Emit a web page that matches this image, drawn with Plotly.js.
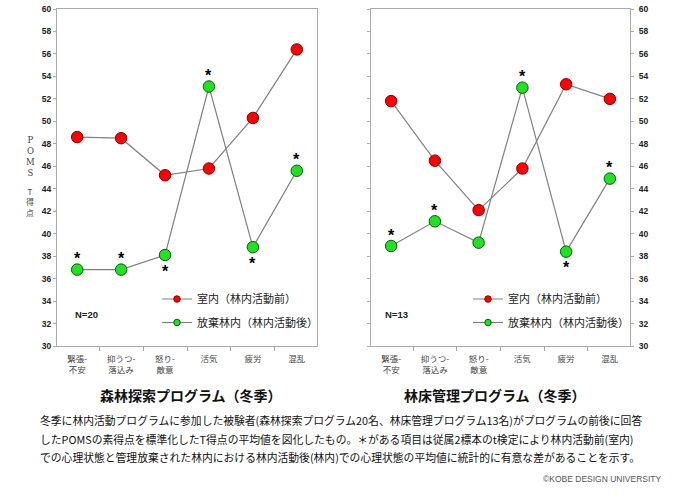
<!DOCTYPE html>
<html><head><meta charset="utf-8">
<script src="https://cdn.plot.ly/plotly-3.0.1.min.js"></script>
<style>body{margin:0;background:#fff}#c{width:680px;height:497px}</style>
</head><body><div id="c"></div>
<script>
const categories = ['緊張-<br>不安','抑うつ-<br>落込み','怒り-<br>敵意','活気','疲労','混乱'];
const exploreBefore = [48.6, 48.5, 45.2, 45.8, 50.3, 56.4];
const exploreAfter  = [36.8, 36.8, 38.1, 53.1, 38.8, 45.6];
const exploreSig    = ['above','above','below','above','below','above'];
const floorBefore   = [51.8, 46.5, 42.1, 45.8, 53.3, 52.0];
const floorAfter    = [38.9, 41.1, 39.2, 53.0, 38.4, 44.9];
const floorSig      = ['above','above','','above','below','above'];
const seriesNames   = ['室内（林内活動前）','放棄林内（林内活動後）'];
const chartTitles   = ['森林探索プログラム（冬季）','林床管理プログラム（冬季）'];
const sampleSizes   = ['N=20','N=13'];
const yTickVals     = [30,32,34,36,38,40,42,44,46,48,50,52,54,56,58,60];

const W = 680, H = 497;
const px = v => v / W, py = v => 1 - v / H;

const lineCol = '#808080';
const red = {color:'#ff0000', line:{color:'#8a0000', width:1}};
const green = {color:'#22e022', line:{color:'#0a5a0a', width:1}};
const starFont = {family:'Liberation Sans, Arial', size:16, color:'#000', weight:'bold'};

function series(x, y, xa, ya, mk) {
  return {x:x, y:y, xaxis:xa, yaxis:ya, type:'scatter', mode:'lines+markers',
    line:{color:lineCol, width:1.2}, marker:Object.assign({size:11.5, symbol:'circle'}, mk),
    showlegend:false, hoverinfo:'skip', cliponaxis:false};
}
function legendEntry(name, mk, leg) {
  return {x:[null], y:[null], type:'scatter', mode:'lines+markers', name:name, legend:leg,
    line:{color:lineCol, width:1.2}, marker:Object.assign({size:6.5}, mk), showlegend:true};
}

const data = [
  series(categories, exploreBefore, 'x', 'y', red),
  series(categories, exploreAfter, 'x', 'y', green),
  series(categories, floorBefore, 'x2', 'y2', red),
  series(categories, floorAfter, 'x2', 'y2', green),
  legendEntry(seriesNames[0], red, 'legend'),
  legendEntry(seriesNames[1], green, 'legend2'),
  legendEntry(seriesNames[0], red, 'legend3'),
  legendEntry(seriesNames[1], green, 'legend4')
];

const tickFont = {family:'Liberation Sans, Arial', size:8.5, color:'#222', weight:'bold'};
const catFont = {family:'Noto Sans CJK JP', size:8.5, color:'#444'};
const axCol = '#aaaaaa';
const xBase = {type:'category', showgrid:false, zeroline:false, showline:true, linecolor:axCol, linewidth:1,
  mirror:true, ticks:'outside', tickson:'boundaries', ticklen:4, tickcolor:axCol, tickfont:catFont,
  ticklabelstandoff:5, fixedrange:true};
const yBase = {range:[30,60], tickvals:yTickVals, showgrid:false, zeroline:false, showline:true, linecolor:axCol,
  linewidth:1, ticks:'outside', ticklen:3, tickcolor:axCol, tickfont:tickFont, fixedrange:true};
const legFont = {family:'Noto Sans CJK JP', size:11, color:'#222'};
function leg(x, y) {
  return {x:px(x), y:py(y), xanchor:'left', yanchor:'middle', bgcolor:'rgba(0,0,0,0)', borderwidth:0, font:legFont, itemwidth:30};
}

const ann = [];
function addStars(sig, vals, xr, yr) {
  sig.forEach((s, i) => {
    if (!s) return;
    ann.push({text:'*', x:categories[i], y:vals[i], xref:xr, yref:yr, showarrow:false, font:starFont,
      xanchor:'center', yanchor:'middle', yshift: s === 'above' ? 11 : -16});
  });
}
addStars(exploreSig, exploreAfter, 'x', 'y');
addStars(floorSig, floorAfter, 'x2', 'y2');

function addText(text, x, y, font, xanchor) {
  ann.push({text:text, x:px(x), y:py(y), xref:'paper', yref:'paper', xanchor:xanchor || 'center', yanchor:'middle',
    showarrow:false, font:font, align: xanchor === 'left' ? 'left' : 'center'});
}
const titleFont = {family:'Noto Sans CJK JP', size:14, color:'#111', weight:'bold'};
addText(chartTitles[0], 191, 395, titleFont);
addText(chartTitles[1], 495, 395, titleFont);
const nFont = {family:'Liberation Sans, Arial', size:9.5, color:'#222', weight:'bold'};
addText(sampleSizes[0], 73, 314, nFont, 'left');
addText(sampleSizes[1], 383, 314, nFont, 'left');
addText('P<br>O<br>M<br>S', 30, 156, {family:'DejaVu Serif', size:8.5, color:'#444'});
addText('T<br>得<br>点', 30, 202, {family:'Noto Sans CJK JP', size:8, color:'#444'});
const capFont = {family:'Noto Sans CJK JP', size:10.8, color:'#111'};
const caption = [
  '冬季に林内活動プログラムに参加した被験者(森林探索プログラム20名、林床管理プログラム13名)がプログラムの前後に回答',
  'したPOMSの素得点を標準化したT得点の平均値を図化したもの。＊がある項目は従属2標本のt検定により林内活動前(室内)',
  'での心理状態と管理放棄された林内における林内活動後(林内)での心理状態の平均値に統計的に有意な差があることを示す。'
];
const capY = [420, 438.5, 457];
caption.forEach((t, i) => addText(t, 38, capY[i], capFont, 'left'));
addText('©KOBE DESIGN UNIVERSITY', 664, 479, {family:'Liberation Sans, Arial', size:8.5, color:'#555'}, 'right');

const layout = {
  width:W, height:H, margin:{l:0, r:0, t:0, b:0}, paper_bgcolor:'#fff', plot_bgcolor:'#fff',
  xaxis: Object.assign({}, xBase, {domain:[px(57), px(317)], anchor:'y'}),
  yaxis: Object.assign({}, yBase, {domain:[py(346), py(9)], anchor:'x', side:'left', mirror:true}),
  xaxis2: Object.assign({}, xBase, {domain:[px(371), px(630)], anchor:'y2'}),
  yaxis2: Object.assign({}, yBase, {domain:[py(346), py(9)], anchor:'x2', side:'right', mirror:'ticks', ticklabelstandoff:3}),
  legend: leg(157, 299), legend2: leg(157, 322.5), legend3: leg(468, 299), legend4: leg(468, 322.5),
  annotations: ann,
  font:{family:'Noto Sans CJK JP'}
};
Plotly.newPlot('c', data, layout, {staticPlot:true, displayModeBar:false});
</script></body></html>
